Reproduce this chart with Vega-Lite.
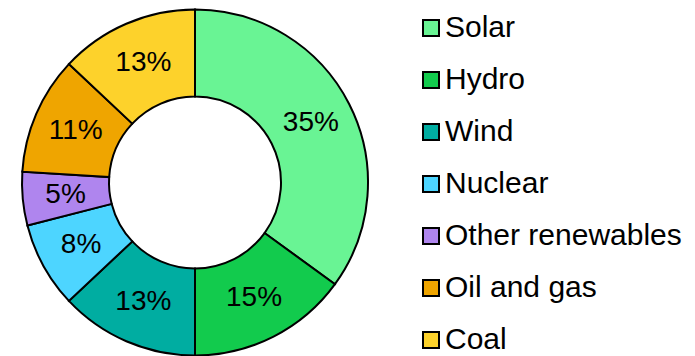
{
  "$schema": "https://vega.github.io/schema/vega-lite/v6.json",
  "width": 390,
  "height": 345,
  "autosize": {"type": "none"},
  "padding": {"left": 0, "top": 10, "right": 305, "bottom": 1},
  "background": "white",
  "config": {"view": {"stroke": null}, "font": "Liberation Sans"},
  "data": {
    "values": [
      {"source": "Solar", "share": 0.35, "idx": 1},
      {"source": "Hydro", "share": 0.15, "idx": 2},
      {"source": "Wind", "share": 0.13, "idx": 3},
      {"source": "Nuclear", "share": 0.08, "idx": 4},
      {"source": "Other renewables", "share": 0.05, "idx": 5},
      {"source": "Oil and gas", "share": 0.11, "idx": 6},
      {"source": "Coal", "share": 0.13, "idx": 7}
    ]
  },
  "encoding": {
    "theta": {"field": "share", "type": "quantitative", "stack": true},
    "order": {"field": "idx", "type": "quantitative"}
  },
  "layer": [
    {
      "mark": {"type": "arc", "outerRadius": 173, "innerRadius": 86, "stroke": "black", "strokeWidth": 2},
      "encoding": {
        "color": {
          "field": "source",
          "type": "nominal",
          "scale": {
            "domain": ["Solar", "Hydro", "Wind", "Nuclear", "Other renewables", "Oil and gas", "Coal"],
            "range": ["#69F494", "#12CB4D", "#00ADA1", "#4DD5FF", "#AF85EE", "#EFA500", "#FDD22B"]
          },
          "legend": {
            "orient": "none",
            "legendX": 416,
            "legendY": 3,
            "title": null,
            "padding": 0,
            "symbolType": "square",
            "symbolSize": 256,
            "symbolStrokeColor": "black",
            "symbolStrokeWidth": 2,
            "symbolOpacity": 1,
            "labelFont": "Liberation Sans",
            "labelFontSize": 30,
            "labelColor": "black",
            "labelOffset": -1,
            "labelLimit": 400,
            "rowPadding": 22
          }
        }
      }
    },
    {
      "mark": {"type": "text", "radius": 130, "fontSize": 28, "font": "Liberation Sans", "color": "black"},
      "encoding": {
        "text": {"field": "share", "type": "quantitative", "format": ".0%"}
      }
    }
  ]
}
